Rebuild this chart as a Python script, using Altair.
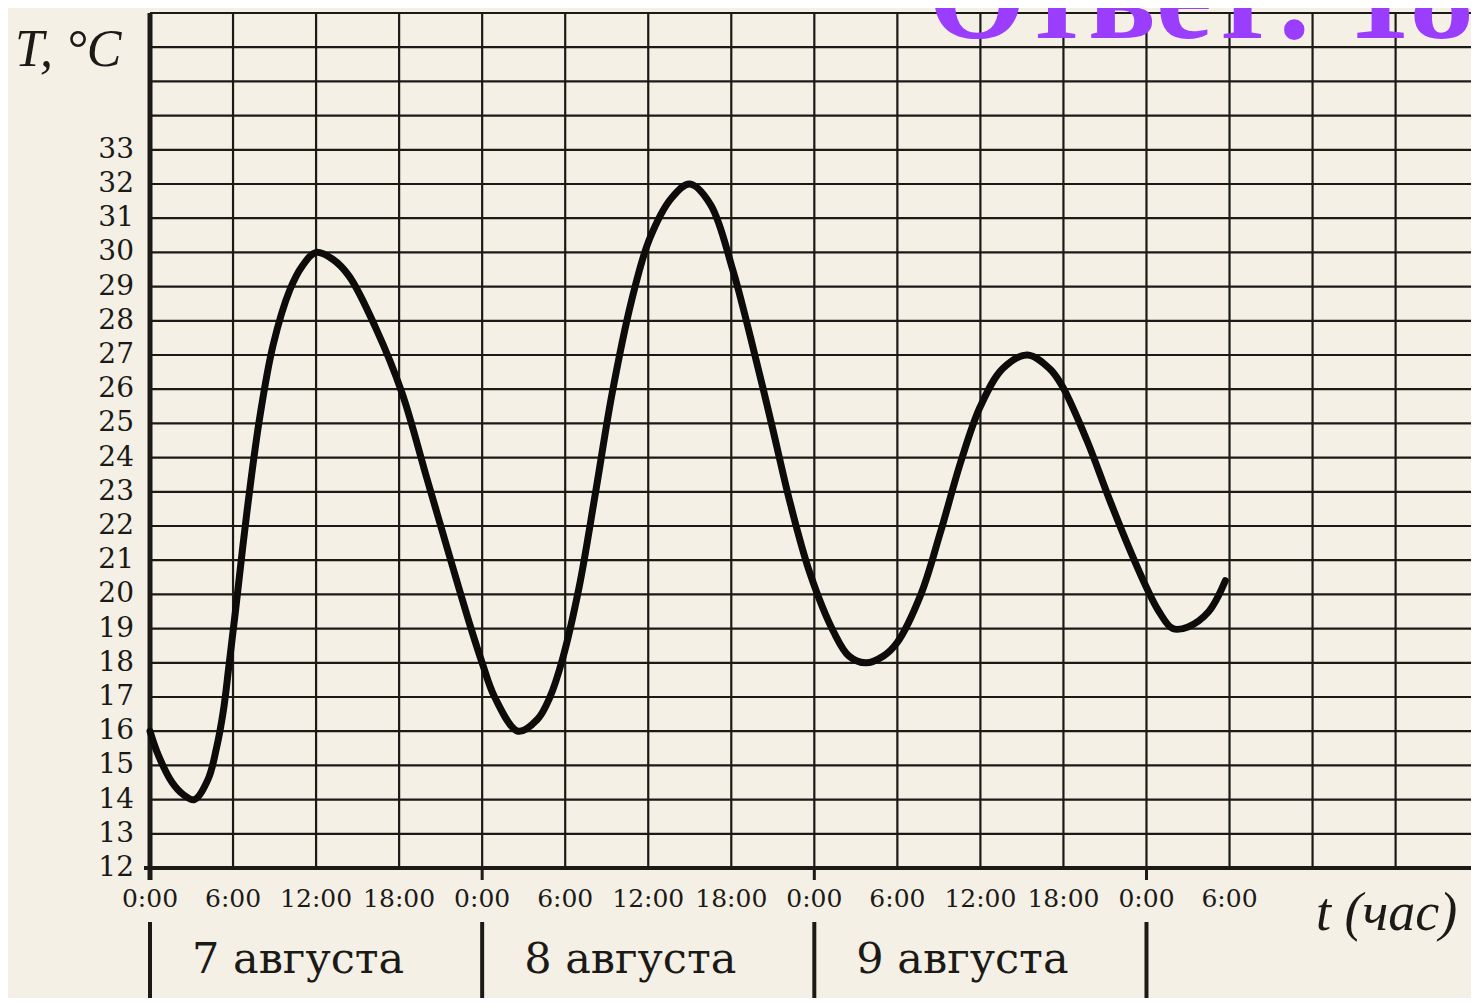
import altair as alt
import pandas as pd

# ---- data ----
hours = [0, 0.6, 1.6, 2.4, 3.2, 4.2, 4.8, 5.3, 5.7, 6.2, 7.0, 7.9, 8.9, 10.1, 11.0, 12.0,
         13.2, 14.4, 16.3, 18.2, 20.0, 21.8, 23.2, 24.0, 24.9, 26.6,
         28.0, 28.9, 29.8, 31.0, 32.2, 33.4, 34.8, 36.1, 37.7, 39.0,
         40.5, 42.1, 43.4, 44.9, 46.3, 47.7, 49.4, 50.5, 51.7,
         53.0, 54.0, 55.7, 57.1, 58.6, 60.0, 61.6, 63.4,
         65.0, 65.9, 67.7, 69.3, 70.8, 72.0, 72.9, 73.9,
         75.0, 76.5, 77.7]
temps = [16.0, 15.3, 14.5, 14.15, 14.0, 14.6, 15.5, 16.6, 17.9, 19.6, 22.4, 25.1, 27.3, 28.9, 29.6, 30.0,
         29.8, 29.3, 27.8, 25.9, 23.4, 20.9, 19.0, 18.0, 17.0, 16.0,
         16.35, 17.0, 18.1, 20.2, 23.0, 25.9, 28.6, 30.4, 31.6, 32.0,
         31.4, 29.5, 27.5, 25.0, 22.6, 20.6, 18.9, 18.2, 18.0,
         18.2, 18.6, 20.0, 21.8, 23.9, 25.5, 26.6, 27.0,
         26.6, 26.1, 24.5, 22.8, 21.3, 20.2, 19.5, 19.0,
         19.05, 19.5, 20.4]

y_tick_values = list(range(12, 34))
x_tick_hours = [0, 6, 12, 18, 24, 30, 36, 42, 48, 54, 60, 66, 72, 78]
x_tick_labels = ["0:00", "6:00", "12:00", "18:00", "0:00", "6:00", "12:00", "18:00",
                 "0:00", "6:00", "12:00", "18:00", "0:00", "6:00"]
day_labels = ["7 августа", "8 августа", "9 августа"]
day_starts = [0, 24, 48]
day_bounds = [0, 24, 48, 72]
grid_temps = list(range(12, 38))
grid_hours = list(range(0, 96, 6))
y_title = "T, °C"
x_title = "t (час)"
stamp = "Ответ: 18"

# ---- layout ----
W, H = 1321, 855
PX_PER_HOUR = 13.84
xs = alt.Scale(domain=[0, W / PX_PER_HOUR], nice=False, zero=False)
ys = alt.Scale(domain=[12, 37], nice=False, zero=False)
INK = "#1b1a17"
PAPER = "#f4f0e5"

curve_df = pd.DataFrame({"h": hours, "T": temps})

hgrid = alt.Chart(pd.DataFrame({"T": grid_temps})).mark_rule(
    color=INK, strokeWidth=2.2).encode(y=alt.Y("T:Q", scale=ys, axis=None))

vgrid = alt.Chart(pd.DataFrame({"h": grid_hours})).mark_rule(
    color=INK, strokeWidth=2.2).encode(x=alt.X("h:Q", scale=xs, axis=None))

left_axis = alt.Chart(pd.DataFrame({"h": [0]})).mark_rule(
    color=INK, strokeWidth=5).encode(
    x=alt.X("h:Q", scale=xs, axis=None), y=alt.value(0), y2=alt.value(H + 12))

bottom_axis = alt.Chart(pd.DataFrame({"T": [12]})).mark_rule(
    color=INK, strokeWidth=4).encode(y=alt.Y("T:Q", scale=ys, axis=None),
                                     x=alt.value(-6), x2=alt.value(W))

day_ticks = alt.Chart(pd.DataFrame({"h": day_bounds})).mark_rule(
    color=INK, strokeWidth=3).encode(
    x=alt.X("h:Q", scale=xs, axis=None), y=alt.value(H), y2=alt.value(H + 12))

day_dividers = alt.Chart(pd.DataFrame({"h": day_bounds})).mark_rule(
    color=INK, strokeWidth=4).encode(
    x=alt.X("h:Q", scale=xs, axis=None), y=alt.value(H + 54), y2=alt.value(H + 140))

curve = alt.Chart(curve_df).mark_line(
    color="#0d0c0b", strokeWidth=7, interpolate="catmull-rom",
    strokeCap="round", strokeJoin="round").encode(
    x=alt.X("h:Q", scale=xs, axis=None), y=alt.Y("T:Q", scale=ys, axis=None))

y_labels = alt.Chart(pd.DataFrame({"T": y_tick_values})).mark_text(
    align="right", baseline="middle", font="DejaVu Serif", fontSize=28,
    color=INK).encode(
    x=alt.value(-16), y=alt.Y("T:Q", scale=ys, axis=None), text=alt.Text("T:Q"))

x_labels = alt.Chart(pd.DataFrame({"h": x_tick_hours, "lab": x_tick_labels})).mark_text(
    align="center", baseline="middle", font="DejaVu Serif", fontSize=25,
    color=INK).encode(
    x=alt.X("h:Q", scale=xs, axis=None), y=alt.value(H + 31), text="lab:N")

day_text = alt.Chart(pd.DataFrame({"h": day_starts, "lab": day_labels})).mark_text(
    align="left", baseline="middle", font="DejaVu Serif", fontSize=43, dx=42,
    color=INK).encode(
    x=alt.X("h:Q", scale=xs, axis=None), y=alt.value(H + 92), text="lab:N")

y_title_t = alt.Chart(pd.DataFrame({"lab": [y_title]})).mark_text(
    align="left", baseline="middle", font="Liberation Serif", fontStyle="italic",
    fontSize=52, color=INK).encode(
    x=alt.value(-135), y=alt.value(37), text="lab:N")

x_title_t = alt.Chart(pd.DataFrame({"lab": [x_title]})).mark_text(
    align="left", baseline="middle", font="Liberation Serif", fontStyle="italic",
    fontSize=54, color=INK).encode(
    x=alt.value(1166), y=alt.value(H + 46), text="lab:N")

stamp_t = alt.Chart(pd.DataFrame({"lab": [stamp]})).mark_text(
    align="left", baseline="alphabetic", font="Liberation Serif", fontWeight="bold",
    fontSize=126, color="#9b3dfc").encode(
    x=alt.value(778), y=alt.value(25), text="lab:N")

chart = alt.layer(
    hgrid, vgrid, bottom_axis, left_axis, day_ticks, day_dividers, curve,
    y_labels, x_labels, day_text, y_title_t, x_title_t, stamp_t
).properties(
    width=W, height=H,
    autosize=alt.AutoSizeParams(type="none"),
    padding={"left": 142, "top": 5, "right": 0, "bottom": 130},
    background=PAPER,
).configure_view(stroke=None)

chart.save("out.html", embed_options={"renderer": "svg", "actions": False})
